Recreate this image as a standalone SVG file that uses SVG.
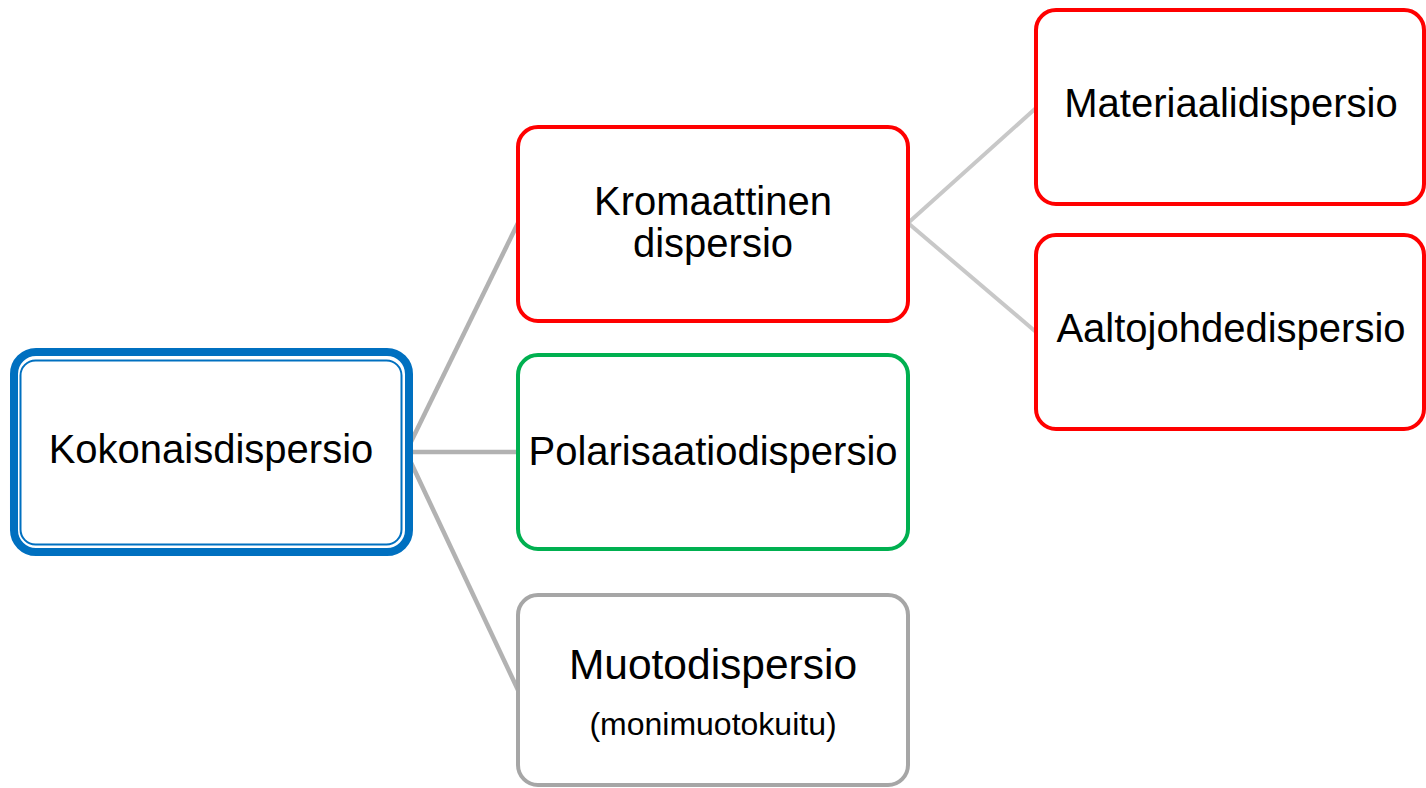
<svg xmlns="http://www.w3.org/2000/svg" width="1426" height="788" viewBox="0 0 1426 788">
<style>
text{font-family:"Liberation Sans",Arial,sans-serif;fill:#000;text-anchor:middle}
.t{font-size:40px}
.m{font-size:42.5px}
.s{font-size:32px}
.box{fill:#fff;stroke-width:4}
.red{stroke:#FF0000}
.grn{stroke:#00B050}
.gry{stroke:#A6A6A6}
.c1{stroke:#B2B2B2;stroke-width:4.5;fill:none}
.c2{stroke:#C8C8C8;stroke-width:4;fill:none}
</style>
<rect width="1426" height="788" fill="#fff"/>
<g id="connectors">
<path class="c1" d="M406 452 L518 223"/>
<path class="c1" d="M406 452 L518 452"/>
<path class="c1" d="M406 452 L518 690"/>
<path class="c2" d="M908 223 L1036 108"/>
<path class="c2" d="M908 223 L1036 332"/>
</g>
<g id="kokonais">
<rect x="14" y="352" width="395" height="200" rx="22" fill="#fff" stroke="#0070C0" stroke-width="8"/>
<rect x="20.5" y="360.5" width="381" height="184" rx="15" fill="none" stroke="#0070C0" stroke-width="2"/>
<text class="t" x="211" y="463">Kokonaisdispersio</text>
</g>
<g id="kromaattinen">
<rect class="box red" x="518" y="127" width="390" height="194" rx="20"/>
<text class="t" x="713" y="215">Kromaattinen</text>
<text class="t" x="713" y="257">dispersio</text>
</g>
<g id="polarisaatio">
<rect class="box grn" x="518" y="355" width="390" height="194" rx="20"/>
<text class="t" x="713" y="465">Polarisaatiodispersio</text>
</g>
<g id="muoto">
<rect class="box gry" x="518" y="595" width="390" height="190" rx="20"/>
<text class="m" x="713" y="679">Muotodispersio</text>
<text class="s" x="713" y="735">(monimuotokuitu)</text>
</g>
<g id="materiaali">
<rect class="box red" x="1036" y="10" width="388" height="194" rx="20"/>
<text class="t" x="1231" y="117">Materiaalidispersio</text>
</g>
<g id="aaltojohde">
<rect class="box red" x="1036" y="235" width="388" height="194" rx="20"/>
<text class="t" x="1231" y="342">Aaltojohdedispersio</text>
</g>
</svg>
